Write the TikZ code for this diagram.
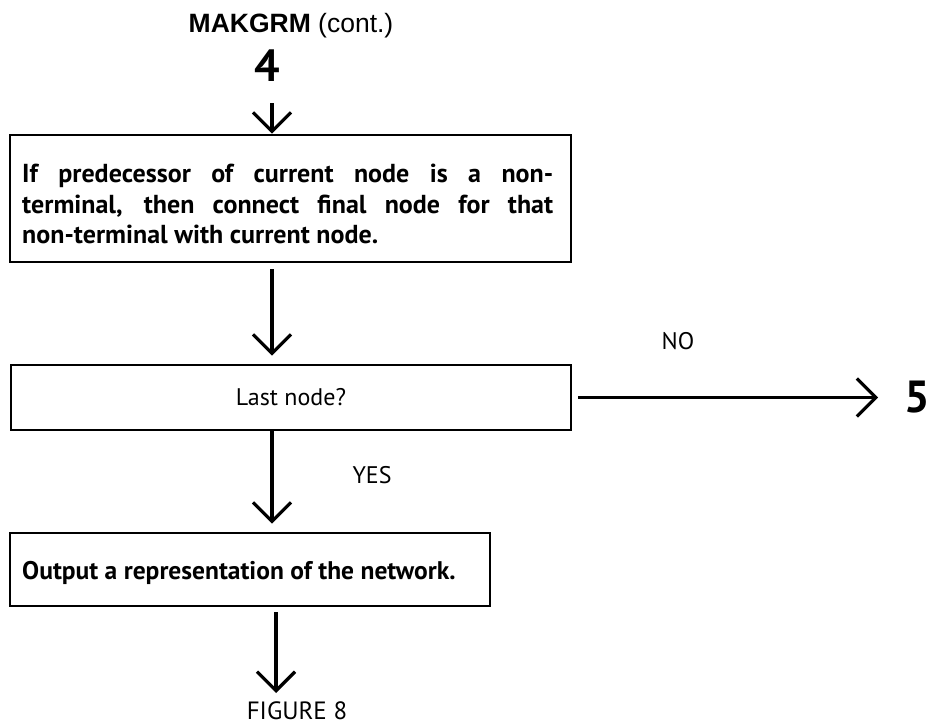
\documentclass[tikz,border=0pt]{standalone}
\usepackage{fontspec}
\setmainfont{PT Sans}
\newfontfamily\headfont{Liberation Sans}
\usetikzlibrary{arrows.meta}

\tikzset{
  box/.style={draw, rectangle, line width=2.6pt, inner sep=0pt},
  flow/.style={line width=3.2pt,
    -{Straight Barb[length=19pt,width=38pt]}},
  bodytext/.style={font=\fontsize{26}{30}\selectfont\bfseries,
    inner sep=0pt, anchor=base west},
  tag/.style={font=\fontsize{24}{28}\selectfont, inner sep=0pt, anchor=base},
  bignum/.style={font=\fontsize{45}{50}\selectfont\bfseries, inner sep=0pt, anchor=base}
}

\begin{document}
\begin{tikzpicture}[x=1pt,y=-1pt]
  \useasboundingbox (0,0) rectangle (938,727);

  % heading and entry connector
  \node[tag, font=\fontsize{26.5}{30}\headfont] (title) at (291,33)
    {\textbf{MAKGRM} (cont.)};
  \node[bignum] (n4) at (267,82) {4};

  % vertical spine of the flow
  \coordinate (spine) at (272,0);
  \coordinate (spineb) at (276,0);

  % process boxes
  \node[box, minimum width=561pt, minimum height=127pt] (box1) at (290.5,198.5) {};
  \node[bodytext] (l1) at (22,183)
    {\makebox[531pt][s]{If predecessor of current node is a non-}};
  \node[bodytext] (l2) at (22,213.5)
    {\makebox[531pt][s]{terminal, then connect final node for that}};
  \node[bodytext] (l3) at (22,244) {non-terminal with current node.};

  \node[box, minimum width=560pt, minimum height=65pt,
        font=\fontsize{24}{28}\selectfont] (box2) at (291,397.5) {Last node?};

  \node[box, minimum width=480pt, minimum height=73pt] (box3) at (250,569.5) {};
  \node[bodytext, font=\fontsize{25.5}{30}\selectfont\bfseries] (l4) at (22,579)
    {Output a representation of the network.};

  % branch labels and off-page connectors
  \node[tag] (no) at (678,350) {NO};
  \node[tag] (yes) at (372,484) {YES};
  \node[bignum] (five) at (917,413) {5};
  \node[tag, font=\fontsize{25}{29}\selectfont] (fig) at (297,719) {FIGURE 8};
  \coordinate (end) at (276,693);

  % connectors
  \draw[flow, shorten <=21pt] (n4.south -| spine) -- (box1.north -| spine);
  \draw[flow, shorten <=6pt, shorten >=8pt] (box1.south -| spine) -- (box2.north -| spine);
  \draw[flow, shorten >=8pt] (box2.south -| spine) -- (box3.north -| spine);
  \draw[flow, shorten <=5pt] (box3.south -| spineb) -- (end);
  \draw[flow, shorten <=6pt, shorten >=26pt] (box2.east) -- (box2.east -| five.west);
\end{tikzpicture}
\end{document}
